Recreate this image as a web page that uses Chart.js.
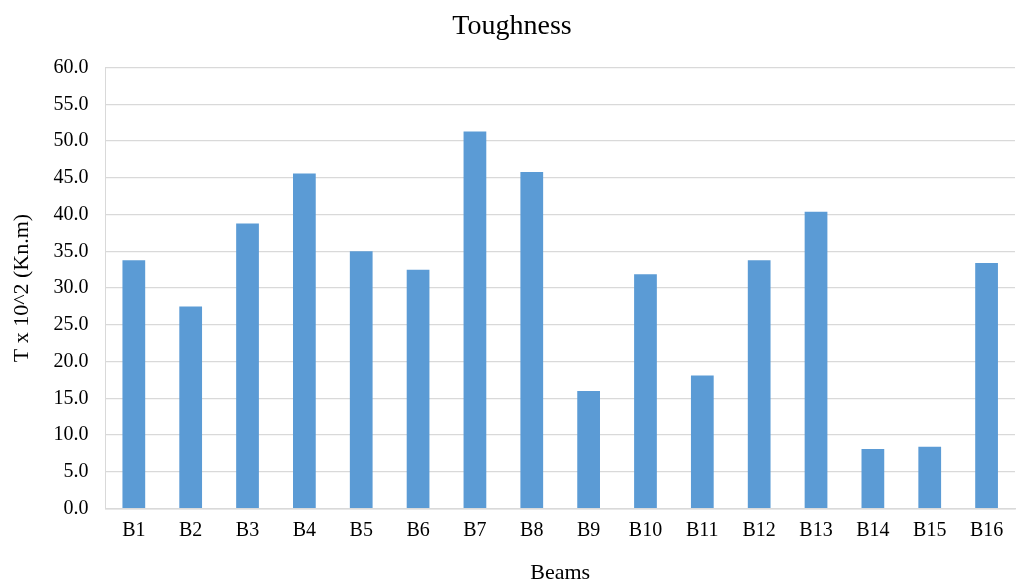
<!DOCTYPE html>
<html>
<head>
<meta charset="utf-8">
<script src="https://cdn.jsdelivr.net/npm/chart.js@4"></script>
<style>
html,body{margin:0;padding:0;background:#fff;}
#wrap{width:1019px;height:586px;}
</style>
</head>
<body>
<div id="wrap"><canvas id="c" width="1019" height="586"></canvas></div>
<script>
const categories = ["B1","B2","B3","B4","B5","B6","B7","B8","B9","B10","B11","B12","B13","B14","B15","B16"];
const toughness = [33.8, 27.5, 38.8, 45.6, 35.0, 32.5, 51.3, 45.8, 16.0, 31.9, 18.1, 33.8, 40.4, 8.1, 8.4, 33.4];
const chartTitle = "Toughness";
const xTitle = "Beams";
const yTitle = "T x 10^2 (Kn.m)";

const serif = "'Liberation Serif', 'Times New Roman', serif";
new Chart(document.getElementById('c'), {
  type: 'bar',
  data: {
    labels: categories,
    datasets: [{
      data: toughness,
      backgroundColor: '#5B9BD5',
      borderWidth: 0,
      barPercentage: 0.4,
      categoryPercentage: 1.0
    }]
  },
  options: {
    responsive: false,
    animation: false,
    layout: { padding: { left: 9, right: 4, top: 0, bottom: 0 } },
    plugins: {
      legend: { display: false },
      tooltip: { enabled: false },
      title: {
        display: true,
        text: chartTitle,
        color: '#000',
        font: { family: serif, size: 28, weight: 'normal' },
        padding: { top: 10, bottom: 24 }
      }
    },
    scales: {
      x: {
        grid: { display: false, drawTicks: false },
        border: { display: true, color: '#d9d9d9', width: 1.5 },
        ticks: { color: '#000', font: { family: serif, size: 20 }, padding: 10, maxRotation: 0, autoSkip: false },
        title: { display: true, text: xTitle, color: '#000', font: { family: serif, size: 22 }, padding: { top: 7, bottom: 0 } }
      },
      y: {
        min: 0, max: 60,
        grid: { color: '#d9d9d9', lineWidth: 1.3, drawTicks: false },
        border: { display: true, color: '#d9d9d9', width: 1 },
        ticks: { stepSize: 5, color: '#000', font: { family: serif, size: 20 }, padding: 17,
                 callback: v => Number(v).toFixed(1) },
        title: { display: true, text: yTitle, color: '#000', font: { family: serif, size: 22 }, padding: { top: 0, bottom: 1 } }
      }
    }
  }
});
</script>
</body>
</html>
